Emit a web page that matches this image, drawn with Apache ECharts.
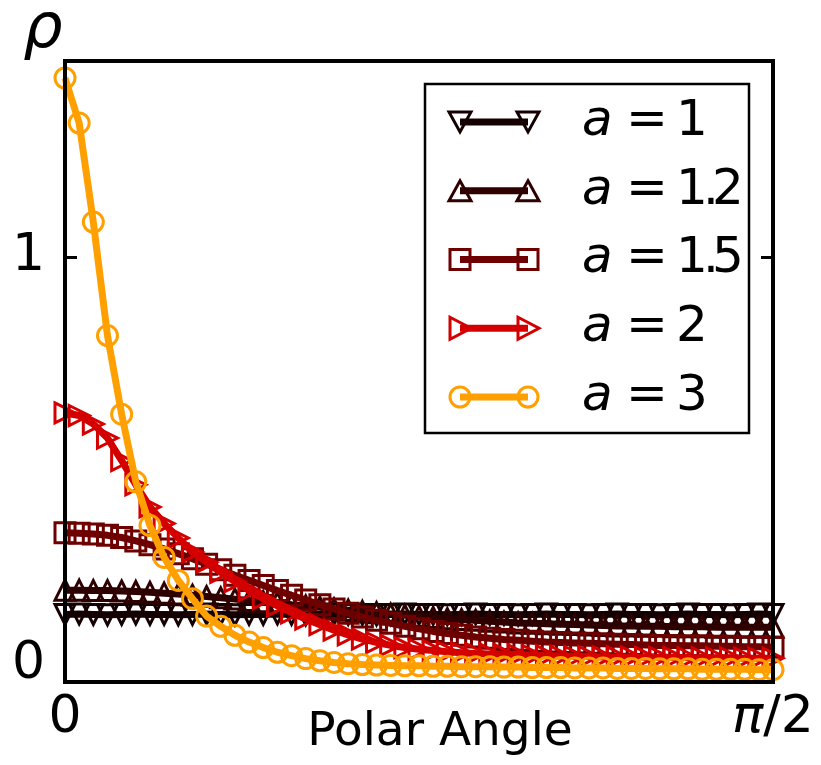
<!DOCTYPE html>
<html>
<head>
<meta charset="utf-8">
<script src="https://cdn.jsdelivr.net/npm/echarts@6/dist/echarts.min.js"></script>
<style>
html,body{margin:0;padding:0;background:#fff;}
#main{width:821px;height:765px;}
</style>
</head>
<body>
<div id="main"></div>
<script>
// polar angle in degrees (axis runs 0 .. pi/2)
var angleDeg = [0,1.8,3.6,5.4,7.2,9,10.8,12.6,14.4,16.2,
  18,19.8,21.6,23.4,25.2,27,28.8,30.6,32.4,34.2,
  36,37.8,39.6,41.4,43.2,45,46.8,48.6,50.4,52.2,
  54,55.8,57.6,59.4,61.2,63,64.8,66.6,68.4,70.2,
  72,73.8,75.6,77.4,79.2,81,82.8,84.6,86.4,88.2,90];

var rhoA1 = [0.159,0.160,0.159,0.158,0.159,0.160,0.159,0.159,0.158,0.159,
  0.160,0.159,0.158,0.159,0.159,0.160,0.159,0.158,0.159,0.160,
  0.159,0.159,0.158,0.159,0.160,0.159,0.159,0.158,0.159,0.160,
  0.159,0.159,0.158,0.159,0.160,0.159,0.159,0.158,0.159,0.160,
  0.159,0.159,0.158,0.159,0.160,0.159,0.159,0.158,0.159,0.160,0.159];

var rhoA12 = [0.216,0.216,0.215,0.215,0.214,0.213,0.211,0.209,0.207,0.204,
  0.201,0.198,0.195,0.192,0.189,0.186,0.182,0.179,0.176,0.172,
  0.169,0.166,0.163,0.160,0.157,0.154,0.152,0.149,0.147,0.145,
  0.143,0.141,0.139,0.138,0.137,0.136,0.135,0.134,0.133,0.132,
  0.132,0.131,0.131,0.130,0.130,0.130,0.129,0.129,0.129,0.129,0.129];

var rhoA15 = [0.351,0.350,0.348,0.345,0.340,0.332,0.323,0.313,0.302,0.290,
  0.277,0.264,0.251,0.239,0.227,0.215,0.204,0.193,0.182,0.172,
  0.162,0.153,0.145,0.138,0.131,0.125,0.119,0.114,0.110,0.106,
  0.103,0.100,0.098,0.096,0.094,0.093,0.092,0.091,0.090,0.089,
  0.088,0.087,0.086,0.086,0.085,0.085,0.084,0.084,0.083,0.083,0.082];

var rhoA2 = [0.633,0.627,0.607,0.574,0.521,0.464,0.412,0.373,0.339,0.306,
  0.282,0.258,0.236,0.215,0.196,0.179,0.163,0.148,0.135,0.122,
  0.111,0.101,0.093,0.086,0.081,0.077,0.074,0.071,0.069,0.067,
  0.066,0.065,0.064,0.063,0.062,0.061,0.060,0.060,0.059,0.059,
  0.059,0.058,0.058,0.058,0.057,0.057,0.057,0.057,0.056,0.056,0.056];

var rhoA3 = [1.421,1.315,1.082,0.815,0.630,0.471,0.368,0.293,0.239,0.196,
  0.155,0.131,0.110,0.094,0.081,0.070,0.062,0.055,0.050,0.046,
  0.043,0.041,0.040,0.039,0.038,0.038,0.037,0.037,0.036,0.036,
  0.036,0.035,0.035,0.034,0.034,0.034,0.033,0.033,0.033,0.032,
  0.032,0.032,0.031,0.031,0.031,0.030,0.030,0.030,0.030,0.029,0.029];

var aValues = ['1','1.2','1.5','2','3'];
var colors = ['#140000','#2e0000','#6e0000','#d40000','#ffa000'];
var symbols = ['path://M0,0L20,0L10,20Z','triangle','rect','path://M0,0L20,10L0,20Z','circle'];
var rhoSets = [rhoA1,rhoA12,rhoA15,rhoA2,rhoA3];

var FONT = 'DejaVu Sans';
var myChart = echarts.init(document.getElementById('main'));

var series = rhoSets.map(function(d,i){
  return {
    name: 'a = '+aValues[i],
    type: 'line',
    z: 2+i,
    data: angleDeg.map(function(x,j){ return [x,d[j]]; }),
    symbol: symbols[i],
    symbolSize: 20,
    showAllSymbol: true,
    lineStyle: {color: colors[i], width: 7},
    itemStyle: {color: 'rgba(0,0,0,0)', borderColor: colors[i], borderWidth: 3},
    emphasis: {disabled: true},
    silent: true
  };
});

// legend drawn by hand, matplotlib style (two markers per line)
function markerShape(i,cx,cy){
  var st = {fill: 'none', stroke: colors[i], lineWidth: 3};
  if(i===0) return {type:'polygon', shape:{points:[[cx-11,cy-10],[cx+11,cy-10],[cx,cy+10]]}, style:st};
  if(i===1) return {type:'polygon', shape:{points:[[cx,cy-10],[cx+11,cy+10],[cx-11,cy+10]]}, style:st};
  if(i===2) return {type:'rect', shape:{x:cx-10,y:cy-10,width:20,height:20}, style:st};
  if(i===3) return {type:'polygon', shape:{points:[[cx-10,cy-11],[cx+11,cy],[cx-10,cy+11]]}, style:st};
  return {type:'circle', shape:{cx:cx,cy:cy,r:10}, style:st};
}
// mathtext-like tight label: a = 1.2
function mathLabel(v){
  var s = '{i|a}{e|=}';
  v.split('').forEach(function(ch){ s += (ch==='.') ? '{d|.}' : '{n|'+ch+'}'; });
  return s;
}
var legendEls = [{type:'rect', shape:{x:425,y:84,width:324,height:349},
  style:{fill:'#fff', stroke:'#000', lineWidth:2.5}}];
aValues.forEach(function(v,i){
  var cy = 122 + i*68.75;
  legendEls.push({type:'line', shape:{x1:460,y1:cy,x2:528,y2:cy}, style:{stroke:colors[i], lineWidth:7}});
  legendEls.push(markerShape(i,460,cy));
  legendEls.push(markerShape(i,528,cy));
  legendEls.push({type:'text', x:582, y:cy, style:{
    text: mathLabel(v), fill:'#000', fontSize:50, fontFamily:FONT,
    verticalAlign:'middle', align:'left',
    rich:{
      i:{fontStyle:'italic', fontSize:50, fontFamily:FONT, width:44},
      e:{fontSize:50, fontFamily:FONT, width:50},
      n:{fontSize:50, fontFamily:FONT, width:27},
      d:{fontSize:50, fontFamily:FONT, width:9}
    }
  }});
});

var option = {
  animation: false,
  backgroundColor: '#fff',
  grid: {left:65, top:61, right:48, bottom:83, show:true, borderColor:'#000', borderWidth:4,
    backgroundColor:'transparent', z:20, outerBoundsMode:'none', containLabel:false},
  xAxis: {
    type: 'value', min: 0, max: 90, interval: 90,
    name: 'Polar Angle', nameLocation: 'middle', nameGap: 27, nameMoveOverlap: false,
    nameTextStyle: {fontSize:47, color:'#000', fontFamily:FONT, padding:[0,0,0,42]},
    axisLine: {show:false}, axisTick: {show:false}, splitLine: {show:false},
    axisLabel: {
      fontSize: 52, color: '#000', fontFamily: FONT, margin: 10,
      formatter: function(v){ return v===0 ? '0' : '{i|π}/2'; },
      rich: {i:{fontStyle:'italic', fontSize:52, fontFamily:FONT}}
    }
  },
  yAxis: [{
    type: 'value', min: 0, max: 1.461, interval: 1,
    axisLine: {show:false}, splitLine: {show:false},
    axisTick: {show:true, inside:true, length:12, lineStyle:{color:'#000', width:3}},
    axisLabel: {
      fontSize: 52, color: '#000', fontFamily: FONT, margin: 20, showMaxLabel: false,
      formatter: function(v){ if(v===0) return '{z|0}'; if(v===1) return '1'; return ''; },
      rich: {z:{fontSize:52, fontFamily:FONT, padding:[0,0,36,0]}}
    }
  },{
    type: 'value', min: 0, max: 1.461, interval: 1, position: 'right',
    axisLine: {show:false}, splitLine: {show:false}, axisLabel: {show:false},
    axisTick: {show:true, inside:true, length:12, lineStyle:{color:'#000', width:3}}
  }],
  graphic: [
    {type:'text', x:43, y:31, z:50, style:{text:'ρ', fill:'#000', fontSize:62, fontFamily:FONT,
      fontStyle:'italic', align:'center', verticalAlign:'middle'}},
    {type:'group', z:100, children: legendEls}
  ],
  series: series
};
myChart.setOption(option);
</script>
</body>
</html>
